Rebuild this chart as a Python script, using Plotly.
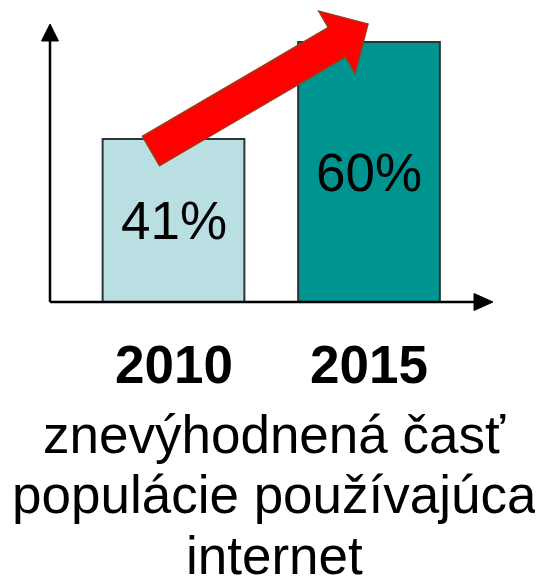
import math
import plotly.graph_objects as go

# ---- data ----
years = ["2010", "2015"]
shares = [41, 60]
labels = ["41%", "60%"]
bar_colors = ["#B9DFE2", "#009491"]
caption_lines = ["znevýhodnená časť", "populácie používajúca", "internet"]

OFF = 8  # page body margin
W, H = 543 - OFF, 577 - OFF
# plot area in screen pixels
X0, X1 = 50, 492
Y0, Y1 = 24, 302  # top, bottom (baseline)

def px(x):
    return (x - OFF) / W

def py(y):
    return 1 - (y - OFF) / H

fig = go.Figure()
fig.add_trace(go.Bar(
    x=[0, 1], y=shares,
    marker=dict(color=bar_colors, line=dict(color="#2b3436", width=2)),
    width=0.725,
    hoverinfo="skip",
))

# y-range so bars align with reference pixel heights
ppu = (139 - 42) / (60 - 41)
y_base = 41 - (Y1 - 139) / ppu
y_top = 60 + (42 - Y0) / ppu

# x-range: category 0 centre at 173.5px, 1 at 369px
ppx = 369 - 173.5
x_lo = (X0 - 173.5) / ppx
x_hi = (X1 - 173.5) / ppx

fig.update_layout(
    width=W, height=H,
    margin=dict(l=0, r=0, t=0, b=0),
    paper_bgcolor="white", plot_bgcolor="white",
    showlegend=False,
    xaxis=dict(domain=[px(X0), px(X1)], range=[x_lo, x_hi], showgrid=False,
               zeroline=False, showline=False, showticklabels=False, fixedrange=True),
    yaxis=dict(domain=[py(Y1), py(Y0)], range=[y_base, y_top], showgrid=False,
               zeroline=False, showline=False, showticklabels=False, fixedrange=True),
)

shapes = []
# axes with arrowheads
shapes.append(dict(type="line", xref="paper", yref="paper",
                   x0=px(50), y0=py(302), x1=px(50), y1=py(36),
                   line=dict(color="black", width=2.5)))
shapes.append(dict(type="path", xref="paper", yref="paper",
                   path=f"M {px(50)},{py(24)} L {px(41.5)},{py(41)} L {px(58.5)},{py(41)} Z",
                   fillcolor="black", line=dict(color="black", width=1)))
shapes.append(dict(type="line", xref="paper", yref="paper",
                   x0=px(50), y0=py(302), x1=px(480), y1=py(302),
                   line=dict(color="black", width=2.5)))
shapes.append(dict(type="path", xref="paper", yref="paper",
                   path=f"M {px(493)},{py(302)} L {px(474)},{py(293.5)} L {px(474)},{py(310.5)} Z",
                   fillcolor="black", line=dict(color="black", width=1)))

# red trend arrow
sx, sy = 151, 151
tx, ty = 368, 24
dx, dy = tx - sx, ty - sy
L = math.hypot(dx, dy)
ux, uy = dx / L, dy / L
nx, ny = -uy, ux
hw_shaft, hw_head, head_len = 17, 36, 36
bx, by = tx - head_len * ux, ty - head_len * uy
pts = [
    (sx + hw_shaft * nx, sy + hw_shaft * ny),
    (bx + hw_shaft * nx, by + hw_shaft * ny),
    (bx + hw_head * nx, by + hw_head * ny),
    (tx, ty),
    (bx - hw_head * nx, by - hw_head * ny),
    (bx - hw_shaft * nx, by - hw_shaft * ny),
    (sx - hw_shaft * nx, sy - hw_shaft * ny),
]
path = "M " + " L ".join(f"{px(x)},{py(y)}" for x, y in pts) + " Z"
shapes.append(dict(type="path", xref="paper", yref="paper", path=path,
                   fillcolor="#FF0000", line=dict(color="#A0391A", width=1.5)))
fig.update_layout(shapes=shapes)

annotations = []
# value labels centred in visible part of each bar
for i, (v, lab) in enumerate(zip(shares, labels)):
    annotations.append(dict(x=i, xref="x", y=(y_base + v) / 2, yref="y", text=lab,
                            showarrow=False, xanchor="center", yanchor="middle",
                            font=dict(family="Liberation Sans, Arial", size=53, color="#000000")))
# year labels under bars
for i, yr in enumerate(years):
    annotations.append(dict(x=i, xref="x", y=py(364), yref="paper", text=f"<b>{yr}</b>",
                            showarrow=False, xanchor="center", yanchor="middle",
                            font=dict(family="Liberation Sans, Arial", size=53, color="black")))
caption_y = [434, 494, 555]
for line, yc in zip(caption_lines, caption_y):
    annotations.append(dict(x=px(274), xref="paper", y=py(yc), yref="paper", text=line,
                            showarrow=False, xanchor="center", yanchor="middle",
                            font=dict(family="Liberation Sans, Arial", size=53, color="black")))
fig.update_layout(annotations=annotations)

fig.write_html("out.html")
